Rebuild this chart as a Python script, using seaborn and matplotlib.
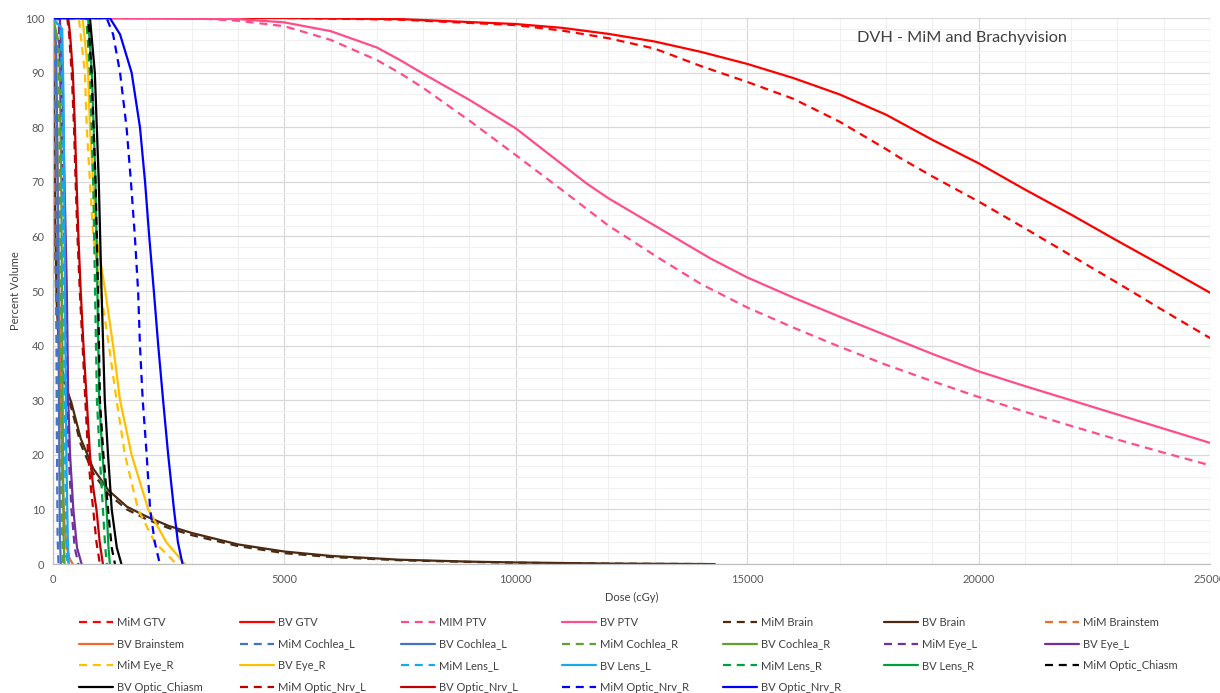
import numpy as np
import pandas as pd
import matplotlib
matplotlib.use("Agg")
import matplotlib.pyplot as plt
import seaborn as sns

# DVH curves (dose in cGy, volume in %)
gtv_mim_dose = [0, 5000, 7500, 10000, 11000, 12000, 13000, 14000, 15000, 16000, 17000, 18000, 18300, 19000, 20000, 21000, 22000, 23000, 24000, 25000]
gtv_mim_vol = [100, 100, 99.7, 98.7, 97.7, 96.3, 94.4, 91.2, 88.3, 85.2, 81.0, 76.0, 74.4, 71.0, 66.4, 61.5, 56.5, 51.5, 46.4, 41.4]
gtv_bv_dose = [0, 5000, 7500, 10000, 11000, 12000, 13000, 14000, 15000, 16000, 17000, 18000, 19000, 20000, 21000, 22000, 23000, 24000, 25000]
gtv_bv_vol = [100, 100, 99.8, 98.9, 98.2, 97.1, 95.7, 93.8, 91.6, 89.0, 86.0, 82.3, 77.7, 73.4, 68.6, 64.0, 59.2, 54.5, 49.7]

ptv_mim_dose = [0, 3000, 4000, 5000, 6000, 7000, 7500, 8000, 9000, 10000, 11000, 12000, 13100, 14000, 15000, 16000, 17000, 18000, 19000, 20000, 21000, 22000, 23000, 24000, 25000]
ptv_mim_vol = [100, 100, 99.5, 98.5, 96.0, 92.3, 89.9, 87.2, 81.2, 74.9, 68.5, 62.0, 56.0, 51.3, 47.0, 43.3, 39.8, 36.5, 33.5, 30.6, 27.9, 25.3, 22.8, 20.4, 18.1]
ptv_bv_dose = [0, 4000, 5000, 6000, 7000, 7500, 8000, 9000, 10000, 11000, 11530, 12000, 13000, 14200, 15000, 16000, 17000, 18000, 19000, 20000, 21000, 22000, 23000, 24000, 25000]
ptv_bv_vol = [100, 99.8, 99.2, 97.6, 94.6, 92.3, 89.8, 85.0, 79.8, 73.2, 69.7, 67.0, 62.0, 56.0, 52.5, 48.8, 45.3, 41.9, 38.5, 35.3, 32.6, 30.0, 27.4, 24.8, 22.2]

brain_mim_dose = [0, 20, 40, 70, 110, 200, 300, 400, 600, 870, 1200, 1600, 2000, 2500, 3000, 4000, 5000, 6000, 7500, 9000, 10000, 12000, 14300]
brain_mim_vol = [100, 85, 62, 48, 41, 35, 31, 28.5, 22, 16.6, 12.8, 10.0, 8.3, 6.6, 5.3, 3.3, 2.0, 1.3, 0.7, 0.4, 0.25, 0.08, 0]
brain_bv_dose = [0, 25, 50, 80, 120, 200, 300, 400, 600, 870, 1200, 1600, 2000, 2500, 3000, 4000, 5000, 6000, 7500, 9000, 10000, 12000, 14300]
brain_bv_vol = [100, 85, 62, 48, 41, 35.5, 32, 29.5, 23, 17.5, 13.5, 10.5, 8.8, 7.0, 5.7, 3.6, 2.3, 1.5, 0.8, 0.45, 0.3, 0.1, 0]

bs_mim_dose = [0, 10, 25, 50, 90, 130, 180, 230, 280, 350]
bs_bv_dose = [0, 30, 80, 120, 160, 200, 250, 300, 360, 430]
bs_mim_vol = [100, 95, 85, 65, 40, 22, 10, 4, 1.5, 0]
bs_bv_vol = [100, 97, 85, 60, 35, 17, 7, 3, 1, 0]

steep_vol = [100, 95, 70, 30, 5, 0]
col_mim_dose = [0, 40, 60, 80, 100, 120]
col_bv_dose = [0, 70, 100, 130, 150, 170]
cor_mim_dose = [0, 110, 150, 180, 200, 220]
cor_bv_dose = [0, 140, 180, 210, 230, 250]

eyl_vol = [100, 100, 90, 70, 50, 30, 20, 10, 3, 0]
eyl_mim_dose = [0, 120, 170, 220, 270, 300, 340, 400, 470, 550]
eyl_bv_dose = [0, 150, 200, 250, 300, 330, 370, 440, 520, 620]

eyr_vol = [100, 100, 90, 80, 70, 60, 50, 40, 30, 20, 10, 4, 0]
eyr_mim_dose = [0, 560, 690, 730, 800, 870, 1030, 1210, 1375, 1555, 1840, 2200, 2670]
eyr_bv_dose = [0, 640, 760, 800, 870, 940, 1130, 1300, 1450, 1700, 2060, 2450, 2850]

lel_vol = [100, 98, 85, 50, 20, 5, 0]
lel_mim_dose = [0, 170, 200, 230, 260, 290, 310]
lel_bv_dose = [0, 200, 230, 260, 290, 320, 340]

mid_vol = [100, 100, 90, 70, 50, 30, 20, 10, 3, 0]
ler_mim_dose = [0, 720, 800, 870, 910, 950, 1010, 1080, 1130, 1165]
ler_bv_dose = [0, 760, 840, 920, 960, 1000, 1070, 1160, 1200, 1230]
och_mim_dose = [0, 760, 835, 920, 975, 1015, 1090, 1190, 1270, 1340]
och_bv_dose = [0, 800, 905, 990, 1050, 1120, 1190, 1270, 1380, 1480]

onl_vol = [100, 100, 97, 90, 80, 70, 60, 50, 40, 30, 20, 14, 10, 4, 0]
onl_mim_dose = [0, 310, 350, 405, 455, 490, 530, 580, 640, 700, 760, 820, 870, 940, 1015]
onl_bv_dose = [0, 330, 370, 430, 475, 510, 550, 600, 660, 730, 800, 870, 940, 1010, 1080]

onr_vol = [100, 100, 97, 90, 80, 70, 60, 50, 40, 30, 20, 10, 4, 0]
onr_mim_dose = [0, 1160, 1300, 1450, 1590, 1685, 1770, 1840, 1880, 1940, 2025, 2100, 2200, 2310]
onr_bv_dose = [0, 1230, 1450, 1700, 1880, 1990, 2080, 2180, 2275, 2380, 2490, 2615, 2700, 2800]

# label, dose, volume, colour, dashed
series = [
    ("MiM GTV", gtv_mim_dose, gtv_mim_vol, "#FF0000", True),
    ("BV GTV", gtv_bv_dose, gtv_bv_vol, "#FF0000", False),
    ("MIM PTV", ptv_mim_dose, ptv_mim_vol, "#FF4D88", True),
    ("BV PTV", ptv_bv_dose, ptv_bv_vol, "#FF4D88", False),
    ("MiM Brain", brain_mim_dose, brain_mim_vol, "#4B2A12", True),
    ("BV Brain", brain_bv_dose, brain_bv_vol, "#4B2A12", False),
    ("MiM Brainstem", bs_mim_dose, bs_mim_vol, "#F26B2A", True),
    ("BV Brainstem", bs_bv_dose, bs_bv_vol, "#F26B2A", False),
    ("MiM Cochlea_L", col_mim_dose, steep_vol, "#4472C4", True),
    ("BV Cochlea_L", col_bv_dose, steep_vol, "#4472C4", False),
    ("MiM Cochlea_R", cor_mim_dose, steep_vol, "#5FA030", True),
    ("BV Cochlea_R", cor_bv_dose, steep_vol, "#5FA030", False),
    ("MiM Eye_L", eyl_mim_dose, eyl_vol, "#7030A0", True),
    ("BV Eye_L", eyl_bv_dose, eyl_vol, "#7030A0", False),
    ("MiM Eye_R", eyr_mim_dose, eyr_vol, "#FFC000", True),
    ("BV Eye_R", eyr_bv_dose, eyr_vol, "#FFC000", False),
    ("MiM Lens_L", lel_mim_dose, lel_vol, "#1AA7EC", True),
    ("BV Lens_L", lel_bv_dose, lel_vol, "#1AA7EC", False),
    ("MiM Lens_R", ler_mim_dose, mid_vol, "#00A040", True),
    ("BV Lens_R", ler_bv_dose, mid_vol, "#00A040", False),
    ("MiM Optic_Chiasm", och_mim_dose, mid_vol, "#000000", True),
    ("BV Optic_Chiasm", och_bv_dose, mid_vol, "#000000", False),
    ("MiM Optic_Nrv_L", onl_mim_dose, onl_vol, "#C00000", True),
    ("BV Optic_Nrv_L", onl_bv_dose, onl_vol, "#C00000", False),
    ("MiM Optic_Nrv_R", onr_mim_dose, onr_vol, "#0000FF", True),
    ("BV Optic_Nrv_R", onr_bv_dose, onr_vol, "#0000FF", False),
]

sns.set_style("white")
plt.rcParams["font.family"] = ["Lato", "DejaVu Sans"]

fig = plt.figure(figsize=(12.2, 6.93), dpi=100)
ax = fig.add_axes([0.0434, 0.186, 0.9484, 0.788])

handles = []
for label, dose, vol, color, dashed in series:
    sns.lineplot(x=dose, y=vol, ax=ax, color=color, linewidth=1.6,
                 estimator=None, sort=False, legend=False)
    line = ax.lines[-1]
    if dashed:
        line.set_dashes((3.6, 2.6))
    line.set_label(label)
    handles.append(line)

if ax.get_legend() is not None:
    ax.get_legend().remove()

ax.set_xlim(0, 25000)
ax.set_ylim(0, 100)
ax.set_xticks(range(0, 25001, 5000))
ax.set_xticks(range(0, 25001, 1000), minor=True)
ax.set_yticks(range(0, 101, 10))
ax.set_yticks(range(0, 101, 2), minor=True)
ax.grid(which="major", color="#D9D9D9", linewidth=0.9)
ax.grid(which="minor", color="#F0F0F0", linewidth=0.8)
ax.set_axisbelow(True)
ax.tick_params(which="both", length=0, labelsize=8, labelcolor="#595959")
ax.tick_params(axis="x", pad=7)
ax.tick_params(axis="y", pad=6)
for side in ["top", "right"]:
    ax.spines[side].set_visible(False)
for side in ["left", "bottom"]:
    ax.spines[side].set_color("#BFBFBF")
    ax.spines[side].set_linewidth(0.9)

ax.set_xlabel("Dose (cGy)", fontsize=8, color="#404040", labelpad=5)
ax.set_ylabel("Percent Volume", fontsize=8, color="#404040", labelpad=3)
ax.text(0.786, 0.963, "DVH - MiM and Brachyvision", transform=ax.transAxes,
        ha="center", va="center", fontsize=11.7, color="#404040")

# legend laid out row by row, 7 columns
ncol = 7
for c in range(ncol):
    col_handles = handles[c::ncol]
    leg = fig.legend(handles=col_handles, labels=[h.get_label() for h in col_handles],
                     loc="upper left", bbox_to_anchor=((79 + 161 * c) / 1220, 1 - 617 / 693),
                     frameon=False, fontsize=8, handlelength=3.05, handletextpad=0.4,
                     labelspacing=0.95, borderpad=0, borderaxespad=0)
    for t in leg.get_texts():
        t.set_color("#404040")

fig.savefig("out.png", dpi=100)
